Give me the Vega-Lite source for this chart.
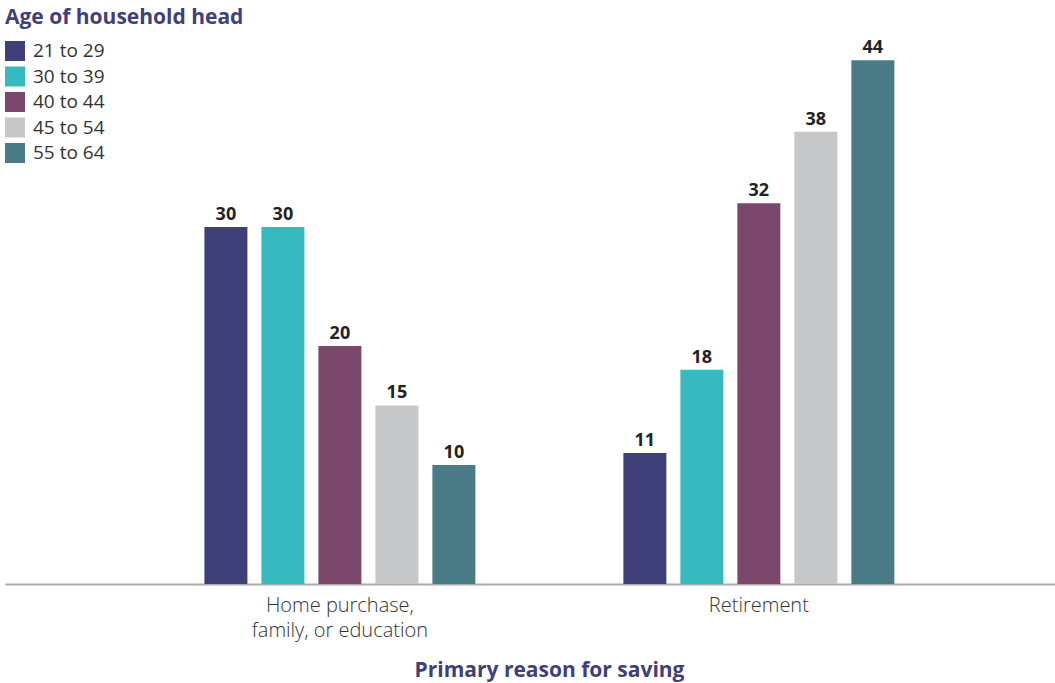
{
  "$schema": "https://vega.github.io/schema/vega-lite/v6.json",
  "autosize": "none",
  "width": 1050,
  "height": 584,
  "padding": {"top": 0, "left": 5, "right": 0, "bottom": 99},
  "background": "white",
  "config": {
    "view": {"stroke": null},
    "font": "Open Sans"
  },
  "data": {
    "values": [
      {"reason": "Home purchase, family, or education", "age": "21 to 29", "value": 30},
      {"reason": "Home purchase, family, or education", "age": "30 to 39", "value": 30},
      {"reason": "Home purchase, family, or education", "age": "40 to 44", "value": 20},
      {"reason": "Home purchase, family, or education", "age": "45 to 54", "value": 15},
      {"reason": "Home purchase, family, or education", "age": "55 to 64", "value": 10},
      {"reason": "Retirement", "age": "21 to 29", "value": 11},
      {"reason": "Retirement", "age": "30 to 39", "value": 18},
      {"reason": "Retirement", "age": "40 to 44", "value": 32},
      {"reason": "Retirement", "age": "45 to 54", "value": 38},
      {"reason": "Retirement", "age": "55 to 64", "value": 44}
    ]
  },
  "encoding": {
    "x": {
      "field": "reason",
      "type": "nominal",
      "sort": null,
      "scale": {"paddingInner": 0.3198, "paddingOuter": 0.413, "align": 0.556},
      "axis": {
        "title": "Primary reason for saving",
        "titleFont": "Open Sans",
        "titleFontSize": 21,
        "titleFontWeight": "bold",
        "titleColor": "#3f3f7a",
        "titlePadding": 19,
        "titleX": 544,
        "titleAlign": "center",
        "labelAngle": 0,
        "labelFont": "Open Sans",
        "labelFontSize": 20,
        "labelFontWeight": 300,
        "labelColor": "#333333",
        "labelPadding": 11,
        "labelLineHeight": 25,
        "labelLimit": 400,
        "labelExpr": "datum.value == 'Home purchase, family, or education' ? ['Home purchase,', 'family, or education'] : datum.value",
        "ticks": false,
        "domainColor": "#aaaaaa",
        "domainWidth": 2,
        "grid": false
      }
    },
    "xOffset": {
      "field": "age",
      "type": "nominal",
      "scale": {"paddingInner": 0.2456, "paddingOuter": 0.1228}
    },
    "y": {
      "field": "value",
      "type": "quantitative",
      "scale": {"domain": [0, 49.07], "nice": false},
      "axis": null
    }
  },
  "layer": [
    {
      "mark": {"type": "bar"},
      "encoding": {
        "color": {
          "field": "age",
          "type": "nominal",
          "scale": {
            "domain": ["21 to 29", "30 to 39", "40 to 44", "45 to 54", "55 to 64"],
            "range": ["#3f3f7a", "#36babf", "#7b486c", "#c6c7c9", "#4a7c88"]
          },
          "legend": {
            "title": "Age of household head",
            "orient": "none",
            "legendX": 0,
            "legendY": 7,
            "titleFont": "Open Sans",
            "titleFontSize": 21,
            "titleFontWeight": "bold",
            "titleColor": "#3f3f7a",
            "titlePadding": 13,
            "titleLimit": 400,
            "symbolType": "square",
            "symbolSize": 400,
            "symbolStrokeWidth": 0,
            "symbolOpacity": 1,
            "labelFont": "Open Sans",
            "labelFontSize": 19,
            "labelColor": "#333333",
            "labelOffset": 8,
            "rowPadding": 5.5
          }
        }
      }
    },
    {
      "mark": {"type": "text", "dy": -12, "fontSize": 18, "fontWeight": "bold", "color": "#222222", "font": "Open Sans"},
      "encoding": {
        "text": {"field": "value", "type": "quantitative"}
      }
    }
  ]
}
